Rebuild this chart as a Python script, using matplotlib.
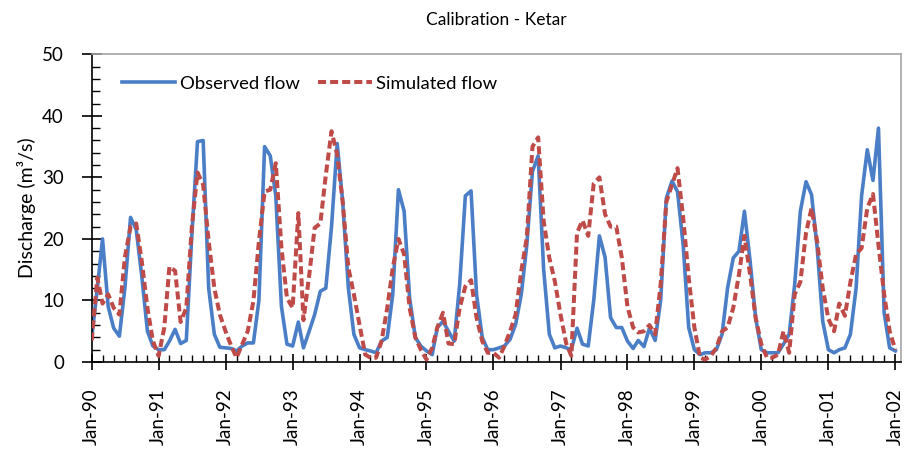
import matplotlib
matplotlib.use("Agg")
import matplotlib.pyplot as plt
import matplotlib.dates as mdates
import numpy as np
import pandas as pd

plt.rcParams['font.family'] = ['Lato', 'DejaVu Sans']

# monthly series, Jan-1990 .. Jan-2002
start_month = '1990-01-01'
observed_flow = [
    4, 12, 20, 9, 5.5, 4.2, 12, 23.5, 21.5, 14, 5, 2.6,           # 1990
    2, 2, 3.4, 5.3, 3, 3.5, 20.5, 35.8, 36, 12, 4.5, 2.4,         # 1991
    2.3, 2.2, 1.8, 2.6, 3.1, 3.1, 10, 35, 33.5, 27, 9, 2.9,       # 1992
    2.6, 6.5, 2.3, 5, 7.7, 11.5, 12, 22, 35.5, 26, 12, 4.5,       # 1993
    2.3, 2, 1.8, 1.5, 3.4, 4, 11, 28, 24.5, 10.4, 4, 2.6,         # 1994
    1.8, 1.2, 5.6, 6.6, 5, 3.4, 12.6, 27, 27.8, 11, 4, 2,         # 1995
    2, 2.3, 2.6, 3.7, 6.1, 11, 19, 31, 33.5, 15, 4.5, 2.3,        # 1996
    2.6, 2.3, 2, 5.5, 2.9, 2.6, 10, 20.5, 17, 7.2, 5.6, 5.6,      # 1997
    3.4, 2.2, 3.5, 2.5, 5.5, 3.5, 10, 26.6, 29.4, 27.7, 19, 5.6,  # 1998
    2, 1.2, 1.5, 1.5, 2, 4.5, 12, 16.9, 18, 24.5, 16.4, 7.2,      # 1999
    2, 1.5, 1.5, 1.5, 2.9, 4.5, 12.6, 24.5, 29.3, 27.2, 18.5, 6.6,  # 2000
    2, 1.5, 2, 2.3, 4.5, 12, 27, 34.5, 29.5, 38, 8, 2.3,          # 2001
    1.8,                                                          # Jan-02
]
simulated_flow = [
    3.5, 13.7, 9.5, 11, 8.8, 7.7, 17, 22, 22.5, 16.4, 8.8, 3.4,
    1, 5.6, 15.5, 14.8, 6.5, 8.8, 21.8, 30.8, 28.8, 19.6, 12, 7.7,
    5, 2.6, 0.7, 2.9, 5, 9.9, 19.6, 27.7, 28, 32.3, 18.5, 10.4,
    8.8, 24.2, 6.8, 14, 21.8, 22.5, 30.4, 37.5, 33.7, 26, 15.3, 11,
    6, 1.2, 0.7, 0.7, 3.4, 8.8, 15.3, 20, 17.5, 8.8, 4, 2,
    0.4, 2.3, 5.6, 8, 3, 2.9, 8.8, 12.3, 13.3, 7.2, 3.4, 1.5,
    1.5, 0.7, 2.6, 5, 7.7, 14.8, 20.2, 35, 36.5, 22.9, 16.9, 13.1,
    7.7, 3, 1, 21, 23, 20.5, 29, 30, 24, 22, 22, 17,
    9, 5.6, 4.8, 5, 6, 4.5, 12.6, 26, 28.8, 31.5, 23.4, 13.7,
    5.6, 0.7, 0.4, 1, 2.3, 5, 5.6, 8.8, 14.2, 20.5, 14.2, 7.2,
    2.9, 0.7, 0.7, 1.2, 5, 1.5, 11, 13, 21, 25, 19.5, 12,
    7, 5, 9.5, 7.5, 13, 17.5, 18.5, 25, 27.3, 19, 11, 5,
    2,
]
series_labels = ['Observed flow', 'Simulated flow']

dates = pd.date_range(start_month, periods=len(observed_flow), freq='MS')

fig = plt.figure(figsize=(9.06, 4.65), dpi=100)
ax = fig.add_axes([0.1012, 0.2215, 0.8933, 0.6617])

ax.plot(dates, observed_flow, color='#4a7ec6', lw=2.6, label=series_labels[0],
        solid_joinstyle='round', zorder=2)
ax.plot(dates, simulated_flow, color='#bf4b48', lw=2.9, linestyle=(0, (2.0, 1.0)),
        label=series_labels[1], zorder=3)

ax.set_xlim(pd.Timestamp('1990-01-01'), pd.Timestamp('2002-02-01'))
ax.set_ylim(0, 50)

# axes / ticks in Excel style
ax.xaxis.set_major_locator(mdates.YearLocator())
ax.xaxis.set_minor_locator(mdates.MonthLocator(bymonth=[3, 5, 7, 9, 11]))
ax.xaxis.set_major_formatter(mdates.DateFormatter('%b-%y'))
ax.set_yticks(np.arange(0, 51, 10))
ax.set_yticks(np.arange(0, 51, 2), minor=True)

ax.tick_params(axis='x', which='major', direction='inout', length=12, width=1.2,
               labelsize=13.5, pad=13, labelrotation=90)
ax.tick_params(axis='x', which='minor', direction='in', length=5, width=1)
ax.tick_params(axis='y', which='major', direction='inout', length=14, width=1.2,
               labelsize=13.5, pad=13)
ax.tick_params(axis='y', which='minor', direction='in', length=6, width=1)

for side in ['left', 'bottom']:
    ax.spines[side].set_color('black')
    ax.spines[side].set_linewidth(1.2)
for side in ['top', 'right']:
    ax.spines[side].set_color('#a6a6a6')
    ax.spines[side].set_linewidth(1.2)

ax.set_ylabel('Discharge (m³/s)', fontsize=14, labelpad=4)
fig.text(0.548, 0.958, 'Calibration - Ketar', ha='center', va='center', fontsize=12.5)

ax.legend(loc='upper left', bbox_to_anchor=(0.028, 0.955), ncol=2, frameon=False,
          fontsize=13.3, handlelength=2.9, handletextpad=0.25, columnspacing=1.0,
          borderaxespad=0)

plt.savefig('out.png', dpi=100)
